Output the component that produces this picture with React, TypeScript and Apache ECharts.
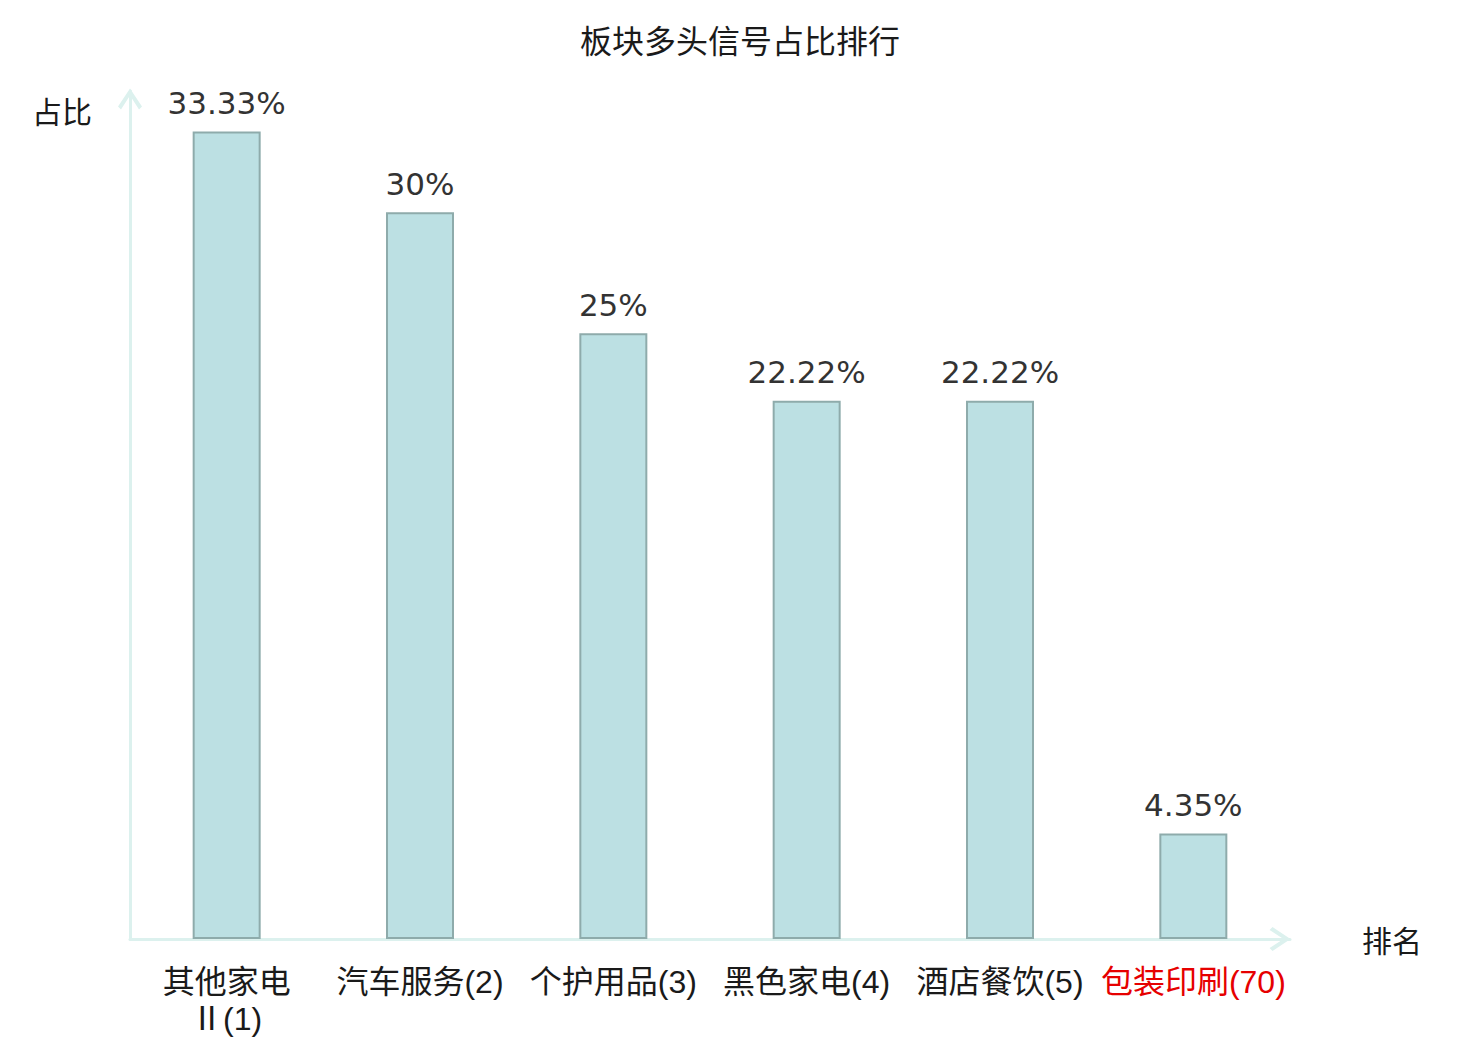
import React, { useEffect, useRef } from "react";
import * as echarts from "echarts";

const titleText = "板块多头信号占比排行";
const categories = ["其他家电Ⅱ(1)", "汽车服务(2)", "个护用品(3)", "黑色家电(4)", "酒店餐饮(5)", "包装印刷(70)"];
const values = [33.33, 30, 25, 22.22, 22.22, 4.35];
const highlightCategory = "包装印刷(70)";
const yAxisName = "占比";
const xAxisName = "排名";

const arrowPath = "path://M12,0 L24,18 L21,21 L12,7 L3,21 L0,18 Z";

export default function App() {
  const ref = useRef<HTMLDivElement>(null);
  useEffect(() => {
    document.body.style.margin = "0";
    if (!ref.current) return;
    const chart = echarts.init(ref.current, null, { renderer: "svg" });
    const axisColor = "#dcf1ee";
    chart.setOption({
      animation: false,
      backgroundColor: "#ffffff",
      title: {
        text: titleText,
        left: "center",
        top: 18,
        textStyle: { fontSize: 32, fontWeight: "normal", color: "#1a1a1a", fontFamily: "Noto Sans CJK SC" },
      },
      grid: { left: 130, right: 190, top: 91, bottom: 101, containLabel: false },
      xAxis: {
        type: "category",
        data: categories.map((c) =>
          c === highlightCategory ? { value: c, textStyle: { color: "#e60000" } } : c
        ),
        name: xAxisName,
        nameLocation: "end",
        nameGap: 72,
        nameTextStyle: { fontSize: 30, color: "#1a1a1a", fontFamily: "Noto Sans CJK SC" },
        axisLine: {
          show: true,
          lineStyle: { color: axisColor, width: 3 },
          symbol: ["none", arrowPath],
          symbolSize: [24, 21],
          symbolOffset: [0, -10],
        },
        axisTick: { show: false },
        axisLabel: {
          interval: 0,
          margin: 24,
          fontSize: 32,
          lineHeight: 37,
          color: "#1a1a1a",
          fontFamily: "'Liberation Sans', 'Noto Sans CJK SC'",
          formatter: (v: string) => v.replace("Ⅱ", "\nⅡ"),
        },
        splitLine: { show: false },
      },
      yAxis: {
        type: "value",
        min: 0,
        max: 35,
        name: yAxisName,
        nameLocation: "end",
        nameGap: -19,
        nameTextStyle: {
          fontSize: 30,
          color: "#1a1a1a",
          fontFamily: "Noto Sans CJK SC",
          align: "right",
          verticalAlign: "middle",
          padding: [0, 38, 0, 0],
        },
        axisLine: {
          show: true,
          lineStyle: { color: axisColor, width: 3 },
          symbol: ["none", arrowPath],
          symbolSize: [24, 21],
          symbolOffset: [0, -8],
        },
        axisTick: { show: false },
        axisLabel: { show: false },
        splitLine: { show: false },
      },
      series: [
        {
          type: "bar",
          data: values,
          barWidth: 68,
          itemStyle: { color: "#bce0e3", borderColor: "#8eabab", borderWidth: 2 },
          label: {
            show: true,
            position: "top",
            distance: 13,
            formatter: (p: any) => p.value + "%",
            fontSize: 31,
            color: "#333",
            fontFamily: "DejaVu Sans",
          },
        },
      ],
    });
    return () => chart.dispose();
  }, []);
  return <div ref={ref} style={{ width: 1480, height: 1040 }} />;
}
